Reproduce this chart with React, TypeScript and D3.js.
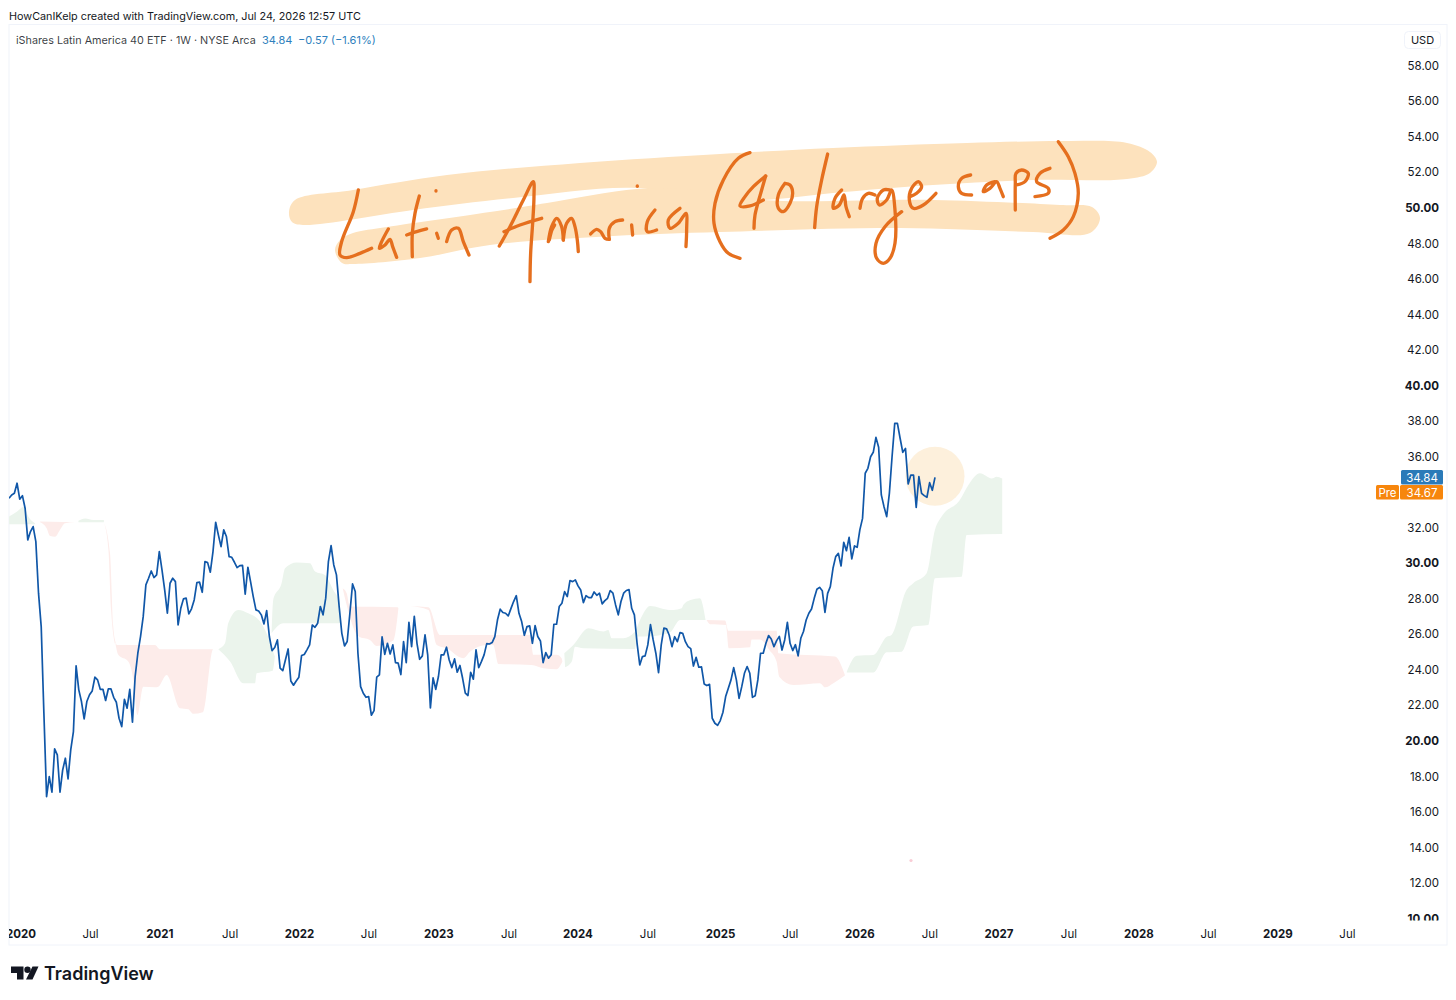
import React from "react";
import * as d3 from "d3";

// Weekly close
const closes: number[] = [
33.66,33.85,33.94,34.51,33.61,33.81,33.10,31.32,31.79,32.07,31.22,28.32,26.44,21.56,16.87,18.00,17.12,19.56,19.22,17.12,
18.37,19.03,17.87,19.50,20.53,24.23,22.88,22.22,21.24,22.22,22.60,22.82,23.59,23.44,22.91,22.91,22.28,22.93,22.93,22.46,
22.18,21.28,20.81,22.35,21.85,22.91,21.06,23.63,24.94,25.88,27.00,28.79,29.16,29.57,29.20,29.35,30.66,29.63,28.50,27.19,
28.88,29.16,28.97,26.53,27.47,28.00,28.04,27.15,27.44,27.94,28.92,28.94,28.37,30.10,30.04,29.50,30.66,32.31,31.60,30.94,
31.88,31.51,30.38,30.34,30.06,29.76,29.87,29.89,28.26,29.78,28.97,28.13,27.38,27.32,27.10,26.59,27.34,25.88,25.09,25.26,
25.69,24.10,23.96,24.57,25.18,23.38,23.14,23.38,23.59,24.81,24.87,25.13,25.41,26.53,26.40,26.63,27.57,27.10,28.04,30.10,
31.00,29.91,29.35,27.57,26.06,25.35,25.60,27.19,28.84,28.41,24.94,23.06,22.69,22.46,22.50,21.45,21.71,23.59,23.72,25.86,
24.88,25.50,24.90,25.41,24.41,24.38,23.74,25.60,24.41,26.68,25.31,27.02,25.50,24.60,24.79,25.97,24.85,21.86,23.55,22.91,
23.63,24.85,24.85,25.28,24.56,24.13,24.62,23.87,24.25,23.53,22.69,22.56,23.87,23.48,25.13,24.13,24.47,24.85,25.48,25.46,
25.54,25.88,26.82,27.42,27.23,27.19,27.04,27.45,27.85,28.18,27.19,26.72,25.95,26.44,26.48,25.50,26.50,25.88,25.63,24.41,
24.98,24.66,24.85,26.57,26.57,27.57,27.75,28.41,28.13,29.03,28.97,29.07,28.73,28.50,27.79,28.18,28.07,28.07,28.39,28.20,
28.32,27.72,27.90,28.03,28.47,28.32,27.66,27.10,27.85,28.32,28.47,28.52,27.47,27.10,25.50,24.28,24.75,24.79,25.41,26.55,
25.69,24.94,23.85,25.41,26.35,26.31,25.95,25.31,25.87,25.59,26.10,26.06,25.59,25.31,25.20,24.22,24.71,24.15,24.17,23.21,
23.12,23.19,21.28,21.00,20.88,21.15,21.62,22.50,22.97,23.44,24.13,23.44,22.40,23.06,23.81,24.19,23.81,22.46,22.54,23.44,
24.94,24.94,25.50,25.93,25.74,25.31,25.65,25.89,25.12,25.69,26.68,25.50,25.09,25.42,24.79,25.78,26.16,26.81,27.19,27.43,
28.03,28.54,28.65,28.46,27.24,28.31,28.69,29.72,30.38,30.56,29.85,31.18,30.71,31.46,30.25,30.98,30.90,31.88,32.53,35.07,
35.35,36.00,36.25,37.09,36.53,33.85,33.19,32.63,33.94,36.00,37.88,37.88,37.04,36.25,36.47,34.47,34.97,34.97,33.15,34.88,
33.94,33.81,33.72,34.54,34.11,34.84,
];

type P = [number, number];
// Ichimoku cloud outlines: [week index, price]
const greenClouds: { upper: P[]; lower: P[] }[] = [
  { upper: [[0,32.63],[2.9,32.91],[5.6,33.19],[7.2,32.63],[9.7,32.26]], lower: [[0,32.2],[9.7,32.2]] },
  { upper: [[25.9,32.39],[28.4,32.52],[31.5,32.44],[35.4,32.44]], lower: [[25.9,32.31],[35.4,32.31]] },
  { upper: [[78.1,25.17],[80.6,25.5],[81.8,26.63],[85.6,27.38],[89.3,27.19],[93.7,26.72],[96.1,26.07],[99.2,24.75]],
    lower: [[78.1,25.17],[82.5,24.47],[87.4,23.25],[91.8,23.25],[92.4,23.81],[98.4,23.96],[99.2,24.75]] },
  { upper: [[98,26.07],[98.6,27.94],[101.7,28.88],[103,29.72],[107.3,30.04],[112.3,30],[114.2,29.54],[117.9,29.35],[121,28.5],[123.4,27.75],[123.8,26.75]],
    lower: [[98,26.07],[102.4,26.63],[123.8,26.63]] },
  { upper: [[207.2,24.94],[210.6,25.41],[216.2,26.35],[221.8,26.16],[223.6,26.25],[224.9,25.78],[229.2,25.78],[233.6,26.16],[235.5,26.82],[239.2,27.6],[246.6,27.38],[247.9,27.38],[251,27.47],[251.6,27.66],[254.3,27.94],[257.8,28.03],[259.9,26.81]],
    lower: [[207.5,24.15],[210,24.47],[211.2,25.31],[214.3,25.22],[233.6,25.18],[234.2,25.88],[240,25.9],[246.6,26.1],[250.4,26.81],[259.9,26.81]] },
  { upper: [[312.6,23.9],[316.3,24.8],[322.5,24.84],[327.5,25.87],[329.3,25.97],[334.9,28.5],[337.4,28.88],[342.4,29.44],[345.5,31.88],[348,32.63],[354.8,33.57],[358,34.41],[362.3,35.07],[366.7,34.78],[368.5,34.88],[370.6,34.78]],
    lower: [[312.6,23.85],[322.5,23.85],[327.5,24.99],[333.1,25.03],[337.4,26.44],[343,26.53],[345.5,29.16],[355.5,29.25],[357.3,31.6],[370.6,31.65]] },
];
const redClouds: { upper: P[]; lower: P[] }[] = [
  { upper: [[11.6,32.35],[24.6,32.31]], lower: [[11.6,32.31],[14.05,31.97],[15.3,31.54],[17.2,31.5],[19,31.88],[20.9,32.26],[24.6,32.31]] },
  { upper: [[35.4,32.31],[37.7,30.57],[38.9,26.44],[39.8,25.54]], lower: [[35.4,32.31],[37.1,30.76],[38.1,27.38],[39.5,25.47]] },
  { upper: [[39.8,25.54],[40.2,25.41],[54.5,25.41],[56.3,25.17],[77.5,25.17]],
    lower: [[39.8,25.41],[40.8,24.85],[44.5,24.47],[46.4,23.44],[47.9,21.47],[50.1,23.06],[54.5,23.03],[55.7,23.06],[58.8,23.72],[63.8,21.85],[66.9,21.79],[68.8,21.53],[72.3,21.62],[76.2,25.17],[77.5,25.17]] },
  { upper: [[124.5,28.6],[126,28.32],[127.2,27.57],[145,27.53],[145.3,27.47]],
    lower: [[124.5,28.6],[126,27.66],[130.4,25.88],[134.7,25.69],[137.2,25.35],[143.4,25.65],[145.3,27.47]] },
  { upper: [[149.6,27.6],[156.5,27.53],[160.8,25.97],[181.4,25.97],[194.4,25.97],[195.7,24.85],[204.4,24.85],[206.2,24.66],[206.5,24.47]],
    lower: [[149.6,27.6],[156.5,27.38],[159.6,25.41],[163.3,25.22],[169.5,24.66],[172,25.03],[178.2,25.41],[180.7,25.41],[182.6,24.34],[195,24.28],[199.4,24.1],[204.4,24.04],[206.5,24.47]] },
  { upper: [[260.3,26.81],[267.2,26.78],[268.4,26.21],[286.4,26.21],[287.1,24.94],[308.2,24.75],[311.9,23.72]],
    lower: [[260.3,26.81],[261.6,26.57],[267.5,26.53],[268.6,25.22],[276.5,25.27],[277.1,25.72],[280.2,25.72],[283.7,25.12],[286.4,24.47],[287.4,23.62],[292.7,23.15],[302.6,23.25],[304.5,23.02],[307.6,23.25],[311.9,23.68]] },
];

const yTicks = [10,12,14,16,18,20,22,24,26,28,30,32,36,38,40,42,44,46,48,50,52,54,56,58];
const boldYTicks = [10,20,30,40,50];
const xTickLabels = ["2020","Jul","2021","Jul","2022","Jul","2023","Jul","2024","Jul","2025","Jul","2026","Jul","2027","Jul","2028","Jul","2029","Jul"];
const xTickWeeks = [4.5,30.4,56.3,82.5,108.4,134.3,160.4,186.6,212.3,238.4,265.5,291.5,317.5,343.6,369.4,395.5,421.6,447.6,473.5,499.4];

const FONT = "Inter, 'Noto Sans', sans-serif";
const GREEN = "#ebf4ec";
const RED = "#fdecea";
const HILITE = "#fde2bd";
const PEN = "#e56f1e";

// Highlighter sweeps (page pixels)
const sweep1: P[] = [[289,212],[295,200],[353,190],[447,175],[580,163],[720,154],[833,148],[967,143],[1067,141],[1127,143],[1150,152],[1157,162],[1150,173],[1127,179],[1033,180],[933,185],[833,193],[763,200],[700,200],[637,188],[513,198],[413,210],[303,225],[292,222]];
const sweep2: P[] = [[335,250],[340,240],[353,233],[387,227],[490,212],[547,203],[637,189],[700,190],[763,200],[933,200],[1060,205],[1092,207],[1100,218],[1090,233],[1033,232],[900,228],[720,232],[613,236],[490,245],[420,258],[353,264],[342,263]];

// Handwriting, traced at 3x from two crops
const penA: P[][] = [
  [[235,180],[220,245],[185,335],[180,375],[200,383],[240,370],[275,355]],
  [[325,297],[305,335],[298,355],[315,345],[330,328],[338,350],[350,382]],
  [[418,198],[405,250],[397,310],[397,380]],
  [[380,315],[410,305],[440,297]],
  [[468,182],[468,183]],
  [[470,310],[475,325]],
  [[500,335],[515,300],[535,295],[550,335],[567,375]],
  [[658,348],[690,290],[730,210],[760,155],[762,200],[758,280],[752,370],[750,455]],
  [[672,305],[720,285],[785,265]],
  [[805,335],[815,290],[830,265],[845,290],[850,330]],
  [[808,330],[816,300],[824,285]],
  [[850,330],[860,280],[875,265],[885,290],[892,330],[895,365]],
  [[932,312],[950,298],[962,305],[975,325],[988,328]],
  [[988,328],[988,295],[1005,275],[1028,270]],
  [[1055,285],[1058,315]],
  [[1072,168],[1072,169]],
  [[1125,240],[1102,275],[1102,305],[1130,300]],
  [[1200,235],[1165,270],[1170,295],[1195,280],[1218,250],[1220,300],[1218,350]],
];
const penB: P[][] = [
  [[150,68],[115,85],[70,150],[45,220],[42,280],[60,335],[85,370],[120,385]],
  [[197,138],[160,170],[135,200],[120,228],[150,228],[190,210]],
  [[197,138],[185,180],[165,255],[162,295]],
  [[255,160],[235,195],[235,235],[250,245],[270,220],[278,190],[270,165],[255,160]],
  [[383,72],[365,150],[350,230],[344,293]],
  [[425,180],[405,205],[400,235],[418,225],[432,195],[438,230],[448,260]],
  [[480,235],[488,205],[505,190],[525,195]],
  [[570,180],[550,180],[532,205],[538,225],[560,210],[575,180],[585,240],[585,340],[570,385],[550,400],[530,385],[528,340],[555,290],[605,245]],
  [[630,200],[650,190],[665,170],[655,155],[635,175],[628,210],[640,235],[670,225],[708,190]],
  [[812,135],[785,145],[775,170],[785,190],[815,195]],
  [[885,155],[860,165],[850,185],[870,175],[890,155],[900,175],[910,200]],
  [[946,240],[946,160],[948,130],[965,120],[985,130],[975,155],[950,165]],
  [[1050,115],[1020,130],[1010,155],[1045,175],[1045,190],[1005,200]],
  [[1075,35],[1105,80],[1125,130],[1135,190],[1120,260],[1090,300],[1050,325]],
];

export default function App() {
  const x = d3.scaleLinear().domain([0, 1]).range([9, 11.68]);
  const xClose = d3.scaleLinear().domain([0, closes.length - 1]).range([9, 935]);
  const y = d3.scaleLinear().domain([50, 20]).range([208, 741]);

  const line = d3.line<number>().x((_, i) => xClose(i)).y(d => y(d));
  const edge = d3.line<P>().x(d => x(d[0])).y(d => y(d[1])).curve(d3.curveMonotoneX);
  const cloudPath = (c: { upper: P[]; lower: P[] }) => {
    const top = edge(c.upper) ?? "";
    const bottom = edge([...c.lower].reverse()) ?? "";
    return `${top}L${bottom.slice(1)}Z`;
  };
  const blob = d3.line<P>().x(d => d[0]).y(d => d[1]).curve(d3.curveCatmullRomClosed.alpha(0.5));
  const pen = d3.line<P>().x(d => d[0]).y(d => d[1]).curve(d3.curveCatmullRom.alpha(0.5));
  const last = closes[closes.length - 1];

  return (
    <svg width={1456} height={1000} style={{ position: "absolute", left: 0, top: 0, background: "#fff" }} fontFamily={FONT}>
      <defs>
        <clipPath id="plot"><rect x={9} y={25} width={1438} height={896} /></clipPath>
        <clipPath id="yaxis"><rect x={1380} y={50} width={67} height={870.5} /></clipPath>
        <clipPath id="xaxis"><rect x={9} y={921} width={1389} height={24} /></clipPath>
      </defs>
      <rect x={0} y={0} width={1456} height={1000} fill="#fff" />
      <text x={9} y={20} fontSize={10.8} fill="#131722">HowCanIKelp created with TradingView.com, Jul 24, 2026 12:57 UTC</text>
      <rect x={9} y={24.5} width={1438} height={920.5} fill="none" stroke="#f0f3fa" />

      <g clipPath="url(#plot)">
        {greenClouds.map((c, i) => <path key={i} d={cloudPath(c)} fill={GREEN} />)}
        {redClouds.map((c, i) => <path key={i} d={cloudPath(c)} fill={RED} />)}
        <circle cx={xClose(closes.length - 1)} cy={y(last) - 1} r={29.5} fill="#fdf0dc" />
        <path d={line(closes) ?? ""} fill="none" stroke="#1057a8" strokeWidth={1.7} strokeLinejoin="round" />
        <circle cx={911} cy={860.5} r={1.6} fill="#f9cdd6" />
      </g>

      <path d={blob(sweep1) ?? ""} fill={HILITE} />
      <path d={blob(sweep2) ?? ""} fill={HILITE} />
      <g transform="translate(280,130) scale(0.3333)" fill="none" stroke={PEN} strokeWidth={10} strokeLinecap="round" strokeLinejoin="round">
        {penA.map((s, i) => <path key={i} d={pen(s) ?? ""} />)}
      </g>
      <g transform="translate(700,130) scale(0.3333)" fill="none" stroke={PEN} strokeWidth={10} strokeLinecap="round" strokeLinejoin="round">
        {penB.map((s, i) => <path key={i} d={pen(s) ?? ""} />)}
      </g>

      <text x={16} y={44} fontSize={10.8} fill="#131722" fillOpacity={0.85}>iShares Latin America 40 ETF · 1W · NYSE Arca</text>
      <text x={262} y={44} fontSize={11} fill="#2e7fbd">34.84</text>
      <text x={298} y={44} fontSize={11} fill="#2e7fbd">−0.57 (−1.61%)</text>

      <rect x={1404.5} y={31.5} width={36} height={17} rx={4} fill="#fff" stroke="#f0f3fa" />
      <text x={1422.5} y={44} fontSize={11} fill="#131722" textAnchor="middle">USD</text>

      <g clipPath="url(#yaxis)">
        {yTicks.map(t => (
          <text key={t} x={1439} y={y(t) + 4} textAnchor="end" fontSize={11.5}
            fontWeight={boldYTicks.includes(t) ? 700 : 400} fill="#131722">{t.toFixed(2)}</text>
        ))}
      </g>

      <rect x={1401} y={470} width={42} height={14.5} rx={1.5} fill="#2a7ab8" />
      <text x={1422} y={481.5} fontSize={11.5} fill="#fff" textAnchor="middle">34.84</text>
      <rect x={1376} y={485} width={23} height={14.5} rx={1.5} fill="#f7860c" />
      <text x={1387.5} y={496.5} fontSize={11.5} fill="#fff" textAnchor="middle">Pre</text>
      <rect x={1400} y={485} width={43} height={14.5} rx={1.5} fill="#f7860c" />
      <text x={1422} y={496.5} fontSize={11.5} fill="#fff" textAnchor="middle">34.67</text>

      <g clipPath="url(#xaxis)">
        {xTickLabels.map((l, i) => (
          <text key={i} x={x(xTickWeeks[i])} y={938} textAnchor="middle" fontSize={11.5}
            fontWeight={l === "Jul" ? 400 : 700} fill="#131722">{l}</text>
        ))}
      </g>

      {/* TradingView mark */}
      <g fill="#131722">
        <path d="M11 966.5 H23.5 V979.5 H17 V973 H11 Z" />
        <circle cx={27.5} cy={969.7} r={3.2} />
        <path d="M32.5 966.5 H38.5 L32.5 979.5 H26 Z" />
        <text x={44} y={979.5} fontSize={18} fontWeight={600}>TradingView</text>
      </g>
    </svg>
  );
}
